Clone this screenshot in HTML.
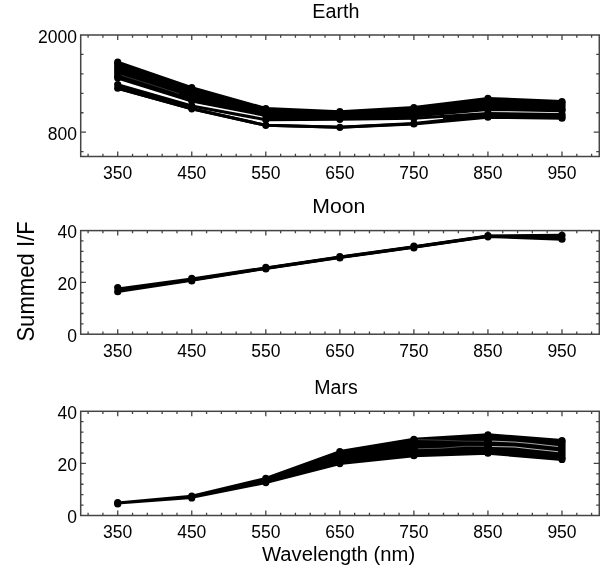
<!DOCTYPE html>
<html><head><meta charset="utf-8"><style>
html,body{margin:0;padding:0;background:#fff;}
body{width:600px;height:566px;overflow:hidden;font-family:"Liberation Sans",sans-serif;}
svg{display:block;filter:grayscale(1);}
text{font-family:"Liberation Sans",sans-serif;}
</style></head><body>
<svg width="600" height="566" viewBox="0 0 600 566" font-family="Liberation Sans, sans-serif" fill="#000"><text transform="translate(312.28,17.9) scale(0.9384,1)" font-size="21">Earth</text>
<text transform="translate(312.26,212.9) scale(1.0094,1)" font-size="21">Moon</text>
<text transform="translate(314.3,394) scale(0.9302,1)" font-size="21">Mars</text>
<text transform="translate(33.6,281.45) rotate(-90) scale(0.9612,1)" text-anchor="middle" font-size="23">Summed I/F</text>
<text transform="translate(262,560.7) scale(0.9625,1)" font-size="21">Wavelength (nm)</text>
<rect x="80.7" y="35" width="518.6" height="121.5" fill="none" stroke="#444" stroke-width="1.5"/>
<path d="M88.1 156.5v-2.7M88.1 35v2.7M102.91 156.5v-2.7M102.91 35v2.7M117.72 156.5v-2.7M117.72 35v2.7M132.53 156.5v-2.7M132.53 35v2.7M147.34 156.5v-2.7M147.34 35v2.7M162.15 156.5v-2.7M162.15 35v2.7M176.96 156.5v-2.7M176.96 35v2.7M191.76 156.5v-2.7M191.76 35v2.7M206.57 156.5v-2.7M206.57 35v2.7M221.38 156.5v-2.7M221.38 35v2.7M236.19 156.5v-2.7M236.19 35v2.7M251 156.5v-2.7M251 35v2.7M265.81 156.5v-2.7M265.81 35v2.7M280.62 156.5v-2.7M280.62 35v2.7M295.42 156.5v-2.7M295.42 35v2.7M310.23 156.5v-2.7M310.23 35v2.7M325.04 156.5v-2.7M325.04 35v2.7M339.85 156.5v-2.7M339.85 35v2.7M354.66 156.5v-2.7M354.66 35v2.7M369.47 156.5v-2.7M369.47 35v2.7M384.28 156.5v-2.7M384.28 35v2.7M399.08 156.5v-2.7M399.08 35v2.7M413.89 156.5v-2.7M413.89 35v2.7M428.7 156.5v-2.7M428.7 35v2.7M443.51 156.5v-2.7M443.51 35v2.7M458.32 156.5v-2.7M458.32 35v2.7M473.13 156.5v-2.7M473.13 35v2.7M487.94 156.5v-2.7M487.94 35v2.7M502.74 156.5v-2.7M502.74 35v2.7M517.55 156.5v-2.7M517.55 35v2.7M532.36 156.5v-2.7M532.36 35v2.7M547.17 156.5v-2.7M547.17 35v2.7M561.98 156.5v-2.7M561.98 35v2.7M576.79 156.5v-2.7M576.79 35v2.7M591.6 156.5v-2.7M591.6 35v2.7M117.72 156.5v-5.0M117.72 35v5.0M191.76 156.5v-5.0M191.76 35v5.0M265.81 156.5v-5.0M265.81 35v5.0M339.85 156.5v-5.0M339.85 35v5.0M413.89 156.5v-5.0M413.89 35v5.0M487.94 156.5v-5.0M487.94 35v5.0M561.98 156.5v-5.0M561.98 35v5.0M80.7 151.64h2.8M599 151.64h-2.8M80.7 132.2h2.8M599 132.2h-2.8M80.7 112.76h2.8M599 112.76h-2.8M80.7 93.32h2.8M599 93.32h-2.8M80.7 73.88h2.8M599 73.88h-2.8M80.7 54.44h2.8M599 54.44h-2.8M80.7 132.2h5.3M599 132.2h-5.3" stroke="#444" stroke-width="1.3" fill="none"/>
<text x="76.9" y="139.7" text-anchor="end" font-size="17.5">800</text>
<text x="76.9" y="42.5" text-anchor="end" font-size="17.5">2000</text>
<text x="117.72" y="178.9" text-anchor="middle" font-size="17.5">350</text>
<text x="191.76" y="178.9" text-anchor="middle" font-size="17.5">450</text>
<text x="265.81" y="178.9" text-anchor="middle" font-size="17.5">550</text>
<text x="339.85" y="178.9" text-anchor="middle" font-size="17.5">650</text>
<text x="413.89" y="178.9" text-anchor="middle" font-size="17.5">750</text>
<text x="487.94" y="178.9" text-anchor="middle" font-size="17.5">850</text>
<text x="561.98" y="178.9" text-anchor="middle" font-size="17.5">950</text>
<polygon points="117.72,62.2 191.76,87.6 265.81,108.5 339.85,111.7 413.89,107.6 487.94,98.4 561.98,101.5 561.98,110.7 487.94,109.4 413.89,116 339.85,118 265.81,115.5 191.76,101 117.72,78" fill="#000" stroke="#000" stroke-width="3" stroke-linejoin="round"/>
<polyline points="117.72,84.6 191.76,106 265.81,119.7 339.85,119.3 413.89,118.3 487.94,113.4 561.98,114.6" fill="none" stroke="#000" stroke-width="3.0" stroke-linejoin="round"/>
<polyline points="117.72,88.2 191.76,108.8 265.81,125.3 339.85,127.3 413.89,124 487.94,117.2 561.98,118.2" fill="none" stroke="#000" stroke-width="3.0" stroke-linejoin="round"/>
<polyline points="117.72,88.2 191.76,108.8 265.81,125.3 339.85,127.3 413.89,123.5 487.94,115.4 561.98,116.4" fill="none" stroke="#000" stroke-width="3.0" stroke-linejoin="round"/>
<polyline points="117.72,86.4 191.76,107.4" fill="none" stroke="#000" stroke-width="3.0" stroke-linejoin="round"/>
<polyline points="265.81,117.6 339.85,118.6" fill="none" stroke="#000" stroke-width="3.0" stroke-linejoin="round"/>
<polyline points="443,118.4 488,114.4" fill="none" stroke="#000" stroke-width="3"/>
<polyline points="121,75.2 150,84.3 179,93.6" fill="none" stroke="#3a3a3a" stroke-width="0.8"/>
<circle cx="117.72" cy="62.2" r="3.6"/>
<circle cx="117.72" cy="78" r="3.6"/>
<circle cx="117.72" cy="84.6" r="3.6"/>
<circle cx="117.72" cy="88.2" r="3.6"/>
<rect x="114.12" y="62.2" width="7.2" height="15.8"/>
<circle cx="191.76" cy="87.6" r="3.6"/>
<circle cx="191.76" cy="101" r="3.6"/>
<circle cx="191.76" cy="106" r="3.6"/>
<circle cx="191.76" cy="108.8" r="3.6"/>
<rect x="188.16" y="87.6" width="7.2" height="13.4"/>
<circle cx="265.81" cy="108.5" r="3.6"/>
<circle cx="265.81" cy="115.5" r="3.6"/>
<circle cx="265.81" cy="119.7" r="3.6"/>
<circle cx="265.81" cy="125.3" r="3.6"/>
<rect x="262.21" y="108.5" width="7.2" height="7"/>
<circle cx="339.85" cy="111.7" r="3.6"/>
<circle cx="339.85" cy="118" r="3.6"/>
<circle cx="339.85" cy="119.3" r="3.6"/>
<circle cx="339.85" cy="127.3" r="3.6"/>
<rect x="336.25" y="111.7" width="7.2" height="6.3"/>
<circle cx="413.89" cy="107.6" r="3.6"/>
<circle cx="413.89" cy="116" r="3.6"/>
<circle cx="413.89" cy="118.3" r="3.6"/>
<circle cx="413.89" cy="123.5" r="3.6"/>
<circle cx="413.89" cy="124" r="3.6"/>
<rect x="410.29" y="107.6" width="7.2" height="8.4"/>
<circle cx="487.94" cy="98.4" r="3.6"/>
<circle cx="487.94" cy="109.4" r="3.6"/>
<circle cx="487.94" cy="113.4" r="3.6"/>
<circle cx="487.94" cy="115.4" r="3.6"/>
<circle cx="487.94" cy="117.2" r="3.6"/>
<rect x="484.34" y="98.4" width="7.2" height="11"/>
<circle cx="561.98" cy="101.5" r="3.6"/>
<circle cx="561.98" cy="110.7" r="3.6"/>
<circle cx="561.98" cy="114.6" r="3.6"/>
<circle cx="561.98" cy="116.4" r="3.6"/>
<circle cx="561.98" cy="118.2" r="3.6"/>
<rect x="558.38" y="101.5" width="7.2" height="9.2"/>
<rect x="80.7" y="230.6" width="518.6" height="103.6" fill="none" stroke="#444" stroke-width="1.5"/>
<path d="M88.1 334.2v-2.7M88.1 230.6v2.7M102.91 334.2v-2.7M102.91 230.6v2.7M117.72 334.2v-2.7M117.72 230.6v2.7M132.53 334.2v-2.7M132.53 230.6v2.7M147.34 334.2v-2.7M147.34 230.6v2.7M162.15 334.2v-2.7M162.15 230.6v2.7M176.96 334.2v-2.7M176.96 230.6v2.7M191.76 334.2v-2.7M191.76 230.6v2.7M206.57 334.2v-2.7M206.57 230.6v2.7M221.38 334.2v-2.7M221.38 230.6v2.7M236.19 334.2v-2.7M236.19 230.6v2.7M251 334.2v-2.7M251 230.6v2.7M265.81 334.2v-2.7M265.81 230.6v2.7M280.62 334.2v-2.7M280.62 230.6v2.7M295.42 334.2v-2.7M295.42 230.6v2.7M310.23 334.2v-2.7M310.23 230.6v2.7M325.04 334.2v-2.7M325.04 230.6v2.7M339.85 334.2v-2.7M339.85 230.6v2.7M354.66 334.2v-2.7M354.66 230.6v2.7M369.47 334.2v-2.7M369.47 230.6v2.7M384.28 334.2v-2.7M384.28 230.6v2.7M399.08 334.2v-2.7M399.08 230.6v2.7M413.89 334.2v-2.7M413.89 230.6v2.7M428.7 334.2v-2.7M428.7 230.6v2.7M443.51 334.2v-2.7M443.51 230.6v2.7M458.32 334.2v-2.7M458.32 230.6v2.7M473.13 334.2v-2.7M473.13 230.6v2.7M487.94 334.2v-2.7M487.94 230.6v2.7M502.74 334.2v-2.7M502.74 230.6v2.7M517.55 334.2v-2.7M517.55 230.6v2.7M532.36 334.2v-2.7M532.36 230.6v2.7M547.17 334.2v-2.7M547.17 230.6v2.7M561.98 334.2v-2.7M561.98 230.6v2.7M576.79 334.2v-2.7M576.79 230.6v2.7M591.6 334.2v-2.7M591.6 230.6v2.7M117.72 334.2v-5.0M117.72 230.6v5.0M191.76 334.2v-5.0M191.76 230.6v5.0M265.81 334.2v-5.0M265.81 230.6v5.0M339.85 334.2v-5.0M339.85 230.6v5.0M413.89 334.2v-5.0M413.89 230.6v5.0M487.94 334.2v-5.0M487.94 230.6v5.0M561.98 334.2v-5.0M561.98 230.6v5.0M80.7 323.84h2.8M599 323.84h-2.8M80.7 313.48h2.8M599 313.48h-2.8M80.7 303.12h2.8M599 303.12h-2.8M80.7 292.76h2.8M599 292.76h-2.8M80.7 272.04h2.8M599 272.04h-2.8M80.7 261.68h2.8M599 261.68h-2.8M80.7 251.32h2.8M599 251.32h-2.8M80.7 240.96h2.8M599 240.96h-2.8M80.7 282.4h5.3M599 282.4h-5.3" stroke="#444" stroke-width="1.3" fill="none"/>
<text x="76.9" y="341.7" text-anchor="end" font-size="17.5">0</text>
<text x="76.9" y="289.9" text-anchor="end" font-size="17.5">20</text>
<text x="76.9" y="238.1" text-anchor="end" font-size="17.5">40</text>
<text x="117.72" y="356.6" text-anchor="middle" font-size="17.5">350</text>
<text x="191.76" y="356.6" text-anchor="middle" font-size="17.5">450</text>
<text x="265.81" y="356.6" text-anchor="middle" font-size="17.5">550</text>
<text x="339.85" y="356.6" text-anchor="middle" font-size="17.5">650</text>
<text x="413.89" y="356.6" text-anchor="middle" font-size="17.5">750</text>
<text x="487.94" y="356.6" text-anchor="middle" font-size="17.5">850</text>
<text x="561.98" y="356.6" text-anchor="middle" font-size="17.5">950</text>
<polyline points="117.72,289 191.76,279 265.81,267.9 339.85,257.1 413.89,246.8 487.94,236 561.98,235.3" fill="none" stroke="#000" stroke-width="3.0" stroke-linejoin="round"/>
<polyline points="117.72,291.4 191.76,280.3 265.81,268.4 339.85,257.6 413.89,247.3 487.94,236.5 561.98,239.2" fill="none" stroke="#000" stroke-width="3.0" stroke-linejoin="round"/>
<polyline points="117.72,290.2 191.76,279.65 265.81,268.15 339.85,257.35 413.89,247.05 487.94,236.25 561.98,237.25" fill="none" stroke="#000" stroke-width="3.0" stroke-linejoin="round"/>
<circle cx="117.72" cy="287.6" r="3.6"/>
<circle cx="117.72" cy="291.7" r="3.6"/>
<circle cx="191.76" cy="278.3" r="3.6"/>
<circle cx="191.76" cy="281" r="3.6"/>
<circle cx="265.81" cy="267.25" r="3.6"/>
<circle cx="265.81" cy="269" r="3.6"/>
<circle cx="339.85" cy="256.5" r="3.6"/>
<circle cx="339.85" cy="258" r="3.6"/>
<circle cx="413.89" cy="246" r="3.6"/>
<circle cx="413.89" cy="248" r="3.6"/>
<circle cx="487.94" cy="235.5" r="3.6"/>
<circle cx="487.94" cy="236.8" r="3.6"/>
<circle cx="561.98" cy="235.3" r="3.6"/>
<circle cx="561.98" cy="239.2" r="3.6"/>
<rect x="80.7" y="411.3" width="518.6" height="104.2" fill="none" stroke="#444" stroke-width="1.5"/>
<path d="M88.1 515.5v-2.7M88.1 411.3v2.7M102.91 515.5v-2.7M102.91 411.3v2.7M117.72 515.5v-2.7M117.72 411.3v2.7M132.53 515.5v-2.7M132.53 411.3v2.7M147.34 515.5v-2.7M147.34 411.3v2.7M162.15 515.5v-2.7M162.15 411.3v2.7M176.96 515.5v-2.7M176.96 411.3v2.7M191.76 515.5v-2.7M191.76 411.3v2.7M206.57 515.5v-2.7M206.57 411.3v2.7M221.38 515.5v-2.7M221.38 411.3v2.7M236.19 515.5v-2.7M236.19 411.3v2.7M251 515.5v-2.7M251 411.3v2.7M265.81 515.5v-2.7M265.81 411.3v2.7M280.62 515.5v-2.7M280.62 411.3v2.7M295.42 515.5v-2.7M295.42 411.3v2.7M310.23 515.5v-2.7M310.23 411.3v2.7M325.04 515.5v-2.7M325.04 411.3v2.7M339.85 515.5v-2.7M339.85 411.3v2.7M354.66 515.5v-2.7M354.66 411.3v2.7M369.47 515.5v-2.7M369.47 411.3v2.7M384.28 515.5v-2.7M384.28 411.3v2.7M399.08 515.5v-2.7M399.08 411.3v2.7M413.89 515.5v-2.7M413.89 411.3v2.7M428.7 515.5v-2.7M428.7 411.3v2.7M443.51 515.5v-2.7M443.51 411.3v2.7M458.32 515.5v-2.7M458.32 411.3v2.7M473.13 515.5v-2.7M473.13 411.3v2.7M487.94 515.5v-2.7M487.94 411.3v2.7M502.74 515.5v-2.7M502.74 411.3v2.7M517.55 515.5v-2.7M517.55 411.3v2.7M532.36 515.5v-2.7M532.36 411.3v2.7M547.17 515.5v-2.7M547.17 411.3v2.7M561.98 515.5v-2.7M561.98 411.3v2.7M576.79 515.5v-2.7M576.79 411.3v2.7M591.6 515.5v-2.7M591.6 411.3v2.7M117.72 515.5v-5.0M117.72 411.3v5.0M191.76 515.5v-5.0M191.76 411.3v5.0M265.81 515.5v-5.0M265.81 411.3v5.0M339.85 515.5v-5.0M339.85 411.3v5.0M413.89 515.5v-5.0M413.89 411.3v5.0M487.94 515.5v-5.0M487.94 411.3v5.0M561.98 515.5v-5.0M561.98 411.3v5.0M80.7 505.08h2.8M599 505.08h-2.8M80.7 494.66h2.8M599 494.66h-2.8M80.7 484.24h2.8M599 484.24h-2.8M80.7 473.82h2.8M599 473.82h-2.8M80.7 452.98h2.8M599 452.98h-2.8M80.7 442.56h2.8M599 442.56h-2.8M80.7 432.14h2.8M599 432.14h-2.8M80.7 421.72h2.8M599 421.72h-2.8M80.7 463.4h5.3M599 463.4h-5.3" stroke="#444" stroke-width="1.3" fill="none"/>
<text x="76.9" y="523" text-anchor="end" font-size="17.5">0</text>
<text x="76.9" y="470.9" text-anchor="end" font-size="17.5">20</text>
<text x="76.9" y="418.8" text-anchor="end" font-size="17.5">40</text>
<text x="117.72" y="537.9" text-anchor="middle" font-size="17.5">350</text>
<text x="191.76" y="537.9" text-anchor="middle" font-size="17.5">450</text>
<text x="265.81" y="537.9" text-anchor="middle" font-size="17.5">550</text>
<text x="339.85" y="537.9" text-anchor="middle" font-size="17.5">650</text>
<text x="413.89" y="537.9" text-anchor="middle" font-size="17.5">750</text>
<text x="487.94" y="537.9" text-anchor="middle" font-size="17.5">850</text>
<text x="561.98" y="537.9" text-anchor="middle" font-size="17.5">950</text>
<polygon points="117.72,503.1 191.76,496.2 265.81,478.4 339.85,451.6 413.89,439.3 487.94,434.75 561.98,440.6 561.98,459.4 487.94,453.2 413.89,455.7 339.85,463.6 265.81,482.6 191.76,497.4 117.72,503.1" fill="#000" stroke="#000" stroke-width="3" stroke-linejoin="round"/>
<polyline points="418,439.6 440,440.2 465,441.2 484,441.3" fill="none" stroke="#4a4a4a" stroke-width="0.8"/>
<polyline points="492,441.1 515,442.1 530,443.4 558,446.5" fill="none" stroke="#bbb" stroke-width="0.9"/>
<polyline points="418,448.7 440,448.3 465,446.3 484,446.4" fill="none" stroke="#666" stroke-width="0.8"/>
<polyline points="492,446.5 515,447 530,448.75 558,451.7" fill="none" stroke="#ccc" stroke-width="0.9"/>
<circle cx="117.72" cy="502.6" r="3.6"/>
<circle cx="117.72" cy="504" r="3.6"/>
<rect x="114.12" y="502.6" width="7.2" height="1.4"/>
<circle cx="191.76" cy="496" r="3.6"/>
<circle cx="191.76" cy="497.9" r="3.6"/>
<rect x="188.16" y="496" width="7.2" height="1.9"/>
<circle cx="265.81" cy="478.4" r="3.6"/>
<circle cx="265.81" cy="482.6" r="3.6"/>
<rect x="262.21" y="478.4" width="7.2" height="4.2"/>
<circle cx="339.85" cy="451.6" r="3.6"/>
<circle cx="339.85" cy="463.6" r="3.6"/>
<rect x="336.25" y="451.6" width="7.2" height="12"/>
<circle cx="413.89" cy="439.3" r="3.6"/>
<circle cx="413.89" cy="455.7" r="3.6"/>
<rect x="410.29" y="439.3" width="7.2" height="16.4"/>
<circle cx="487.94" cy="434.75" r="3.6"/>
<circle cx="487.94" cy="453.2" r="3.6"/>
<rect x="484.34" y="434.75" width="7.2" height="18.45"/>
<circle cx="561.98" cy="440.6" r="3.6"/>
<circle cx="561.98" cy="459.4" r="3.6"/>
<rect x="558.38" y="440.6" width="7.2" height="18.8"/></svg>
</body></html>
